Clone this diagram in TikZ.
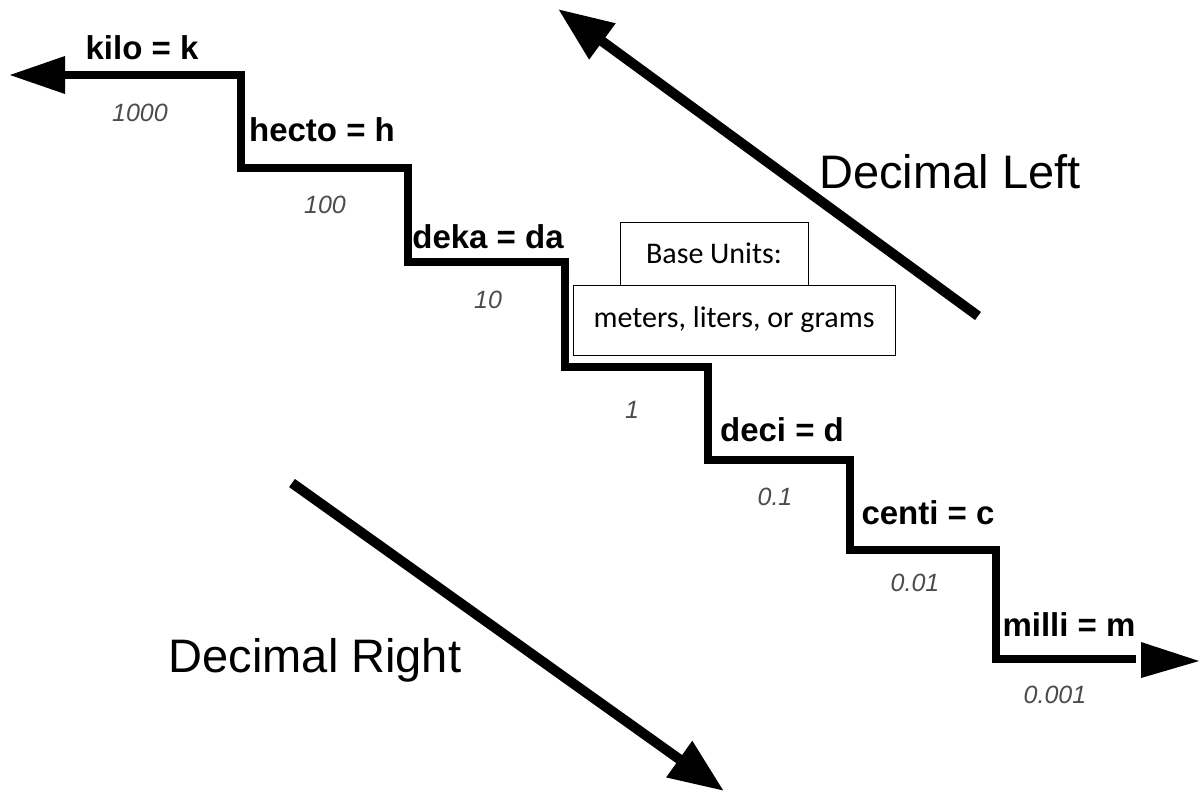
\documentclass[tikz,border=0pt]{standalone}
\usepackage{fontspec}
\setmainfont{Liberation Sans}
\newfontfamily\boxfont{Carlito}
\usetikzlibrary{positioning,arrows.meta}

\tikzset{
  unitlabel/.style={font=\fontsize{33}{36}\selectfont\bfseries, inner sep=0pt},
  factorlabel/.style={font=\fontsize{25}{28}\selectfont\itshape, text=black!70, inner sep=0pt},
  basebox/.style={draw, line width=1pt, font=\boxfont\fontsize{30}{33}\selectfont, inner sep=0pt},
  stair/.style={line width=8pt, line join=miter},
  bigarrow/.style={line width=10pt, -{Triangle[length=55pt,width=42pt]}},
  direction/.style={font=\fontsize{47}{50}\selectfont, inner sep=0pt},
}

\begin{document}
\begin{tikzpicture}[x=1pt,y=-1pt]
\useasboundingbox (0,0) rectangle (1201,793);
% staircase corners
\coordinate (s0) at (65,75);
\coordinate (s1) at (241,75);
\coordinate (s2) at (241,168);
\coordinate (s3) at (408,168);
\coordinate (s4) at (408,262);
\coordinate (s5) at (565,262);
\coordinate (s6) at (565,367);
\coordinate (s7) at (708,367);
\coordinate (s8) at (708,460);
\coordinate (s9) at (850,460);
\coordinate (s10) at (850,550);
\coordinate (s11) at (996,550);
\coordinate (s12) at (996,659);
\coordinate (s13) at (1136,659);
\draw[stair] (s0) -- (s1) -- (s2) -- (s3) -- (s4) -- (s5) -- (s6) -- (s7)
  -- (s8) -- (s9) -- (s10) -- (s11) -- (s12) -- (s13);
\fill (s0) ++(0,-19) -- ++(0,38) -- (10,75) -- cycle;
\fill (s13) ++(5,-17) -- ++(0,36) -- (1199,661) -- cycle;
% prefixes
\node[unitlabel] (kilo) at (142,48) {kilo = k};
\node[unitlabel] (hecto) at (322,130) {hecto = h};
\node[unitlabel] (deka) at (488,237) {deka = da};
\node[unitlabel] (deci) at (782,430) {deci = d};
\node[unitlabel] (centi) at (928,513) {centi = c};
\node[unitlabel] (milli) at (1069,625) {milli = m};
% factors
\node[factorlabel] (f1000) at (140,113) {1000};
\node[factorlabel] (f100) at (325,205) {100};
\node[factorlabel] (f10) at (488,300) {10};
\node[factorlabel] (f1) at (632,410) {1};
\node[factorlabel] (f01) at (775,497) {0.1};
\node[factorlabel] (f001) at (915,583) {0.01};
\node[factorlabel] (f0001) at (1055,695) {0.001};
% base units
\node[basebox, minimum width=188pt, minimum height=63pt] (basetitle) at (714,253.5) {Base Units:};
\node[basebox, minimum width=322pt, minimum height=70pt, fill=white] (baselist) at (734,320) {meters, liters, or grams};
% direction arrows
\coordinate (ltail) at (978,316);
\coordinate (lhead) at (558,9);
\draw[bigarrow] (ltail) -- (lhead);
\coordinate (rtail) at (292,483);
\coordinate (rhead) at (724,791);
\draw[bigarrow] (rtail) -- (rhead);
\node[direction] (declabl) at (950,172) {Decimal Left};
\node[direction] (declabr) at (315,660) {Decimal Right};
\end{tikzpicture}
\end{document}
